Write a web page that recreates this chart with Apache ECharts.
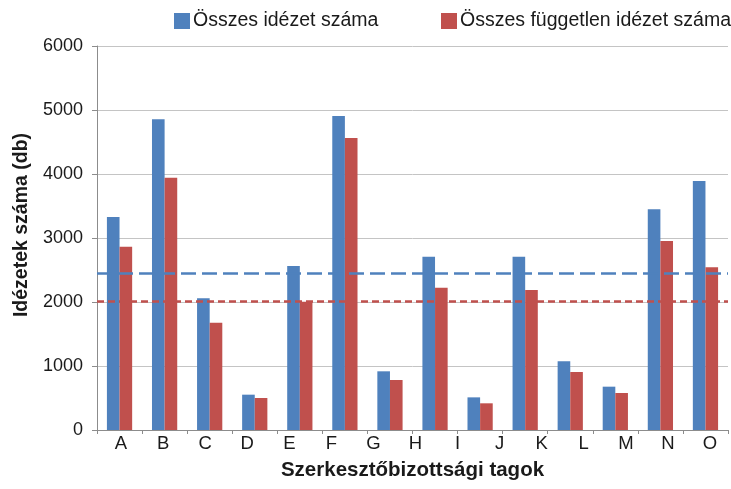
<!DOCTYPE html>
<html>
<head>
<meta charset="utf-8">
<script src="https://cdn.jsdelivr.net/npm/echarts@6/dist/echarts.min.js"></script>
<style>html,body{margin:0;padding:0;background:#fff}#c{width:731px;height:489px}</style>
</head>
<body>
<div id="c"></div>
<script>
// Bar groups (14 groups drawn evenly across the axis)
var barGroups = ['A','B','C','D','E','F','G','H','I–J','K','L','M','N','O'];
// Tick labels shown under the axis (15 labels)
var tickLabels = ['A','B','C','D','E','F','G','H','I','J','K','L','M','N','O'];
var seriesNames = ['Összes idézet száma', 'Összes független idézet száma'];
var totalCitations = [3330, 4855, 2057, 552, 2562, 4906, 917, 2708, 510, 2708, 1073, 677, 3448, 3890];
var independentCitations = [2865, 3943, 1677, 500, 2005, 4562, 781, 2224, 417, 2188, 906, 578, 2953, 2542];
var yTicks = [0, 1000, 2000, 3000, 4000, 5000, 6000];

var FONT = '"Liberation Sans", Arial, Helvetica, sans-serif';
var BLUE = '#4F81BD', RED = '#C0504D';

var chart = echarts.init(document.getElementById('c'), null, {renderer: 'canvas'});
chart.setOption({
  animation: false,
  backgroundColor: '#ffffff',
  textStyle: {fontFamily: FONT},
  grid: {left: 97, right: 3, top: 46, bottom: 59, outerBoundsMode: 'none', containLabel: false},
  legend: [
    {data: [seriesNames[0]], left: 169, top: 6, itemWidth: 16, itemHeight: 16, icon: 'rect', itemGap: 0,
     textStyle: {fontSize: 19.5, color: '#1a1a1a', fontFamily: FONT, padding: [0,0,0,-2]}},
    {data: [seriesNames[1]], left: 436, top: 6, itemWidth: 16, itemHeight: 16, icon: 'rect', itemGap: 0,
     textStyle: {fontSize: 19.5, color: '#1a1a1a', fontFamily: FONT, padding: [0,0,0,-2]}}
  ],
  xAxis: [
    {
      type: 'category', data: barGroups, position: 'bottom',
      axisLine: {show: true, lineStyle: {color: '#8c8c8c', width: 1}},
      axisTick: {show: true, length: 4, lineStyle: {color: '#8c8c8c'}},
      axisLabel: {show: false},
      splitLine: {show: false},
      name: 'Szerkesztőbizottsági tagok', nameLocation: 'middle', nameGap: 30,
      nameTextStyle: {fontSize: 20.5, fontWeight: 'bold', color: '#1a1a1a', fontFamily: FONT}
    },
    {
      type: 'category', data: tickLabels, position: 'bottom',
      axisLine: {show: false}, axisTick: {show: false},
      axisLabel: {show: true, interval: 0, margin: 4, fontSize: 18.5, color: '#1a1a1a', fontFamily: FONT, padding: [0,0,0,6]},
      splitLine: {show: false}
    }
  ],
  yAxis: {
    type: 'value', min: yTicks[0], max: yTicks[yTicks.length - 1], interval: 1000,
    axisLine: {show: true, lineStyle: {color: '#8c8c8c', width: 1}},
    axisTick: {show: true, length: 5, lineStyle: {color: '#8c8c8c'}},
    axisLabel: {margin: 14, fontSize: 18, color: '#1a1a1a', fontFamily: FONT,
      formatter: function (v) { return String(v); }},
    splitLine: {show: true, lineStyle: {color: '#c4c4c4', width: 1}},
    name: 'Idézetek száma (db)', nameLocation: 'middle', nameGap: 52,
    nameTextStyle: {fontSize: 19.5, fontWeight: 'bold', color: '#1a1a1a', fontFamily: FONT, padding: [0,0,0,26]}
  },
  series: [
    {
      name: seriesNames[0], type: 'bar', xAxisIndex: 0, data: totalCitations,
      itemStyle: {color: BLUE}, barGap: '0%', barCategoryGap: '44%',
      markLine: {
        silent: true, symbol: 'none', label: {show: false},
        lineStyle: {color: BLUE, width: 2.5, type: [15, 6]},
        data: [{type: 'average'}], z: 5
      }
    },
    {
      name: seriesNames[1], type: 'bar', xAxisIndex: 0, data: independentCitations,
      itemStyle: {color: RED}, barGap: '0%', barCategoryGap: '44%',
      markLine: {
        silent: true, symbol: 'none', label: {show: false},
        lineStyle: {color: RED, width: 2.5, type: [7, 4]},
        data: [{type: 'average'}], z: 5
      }
    }
  ]
});
</script>
</body>
</html>
